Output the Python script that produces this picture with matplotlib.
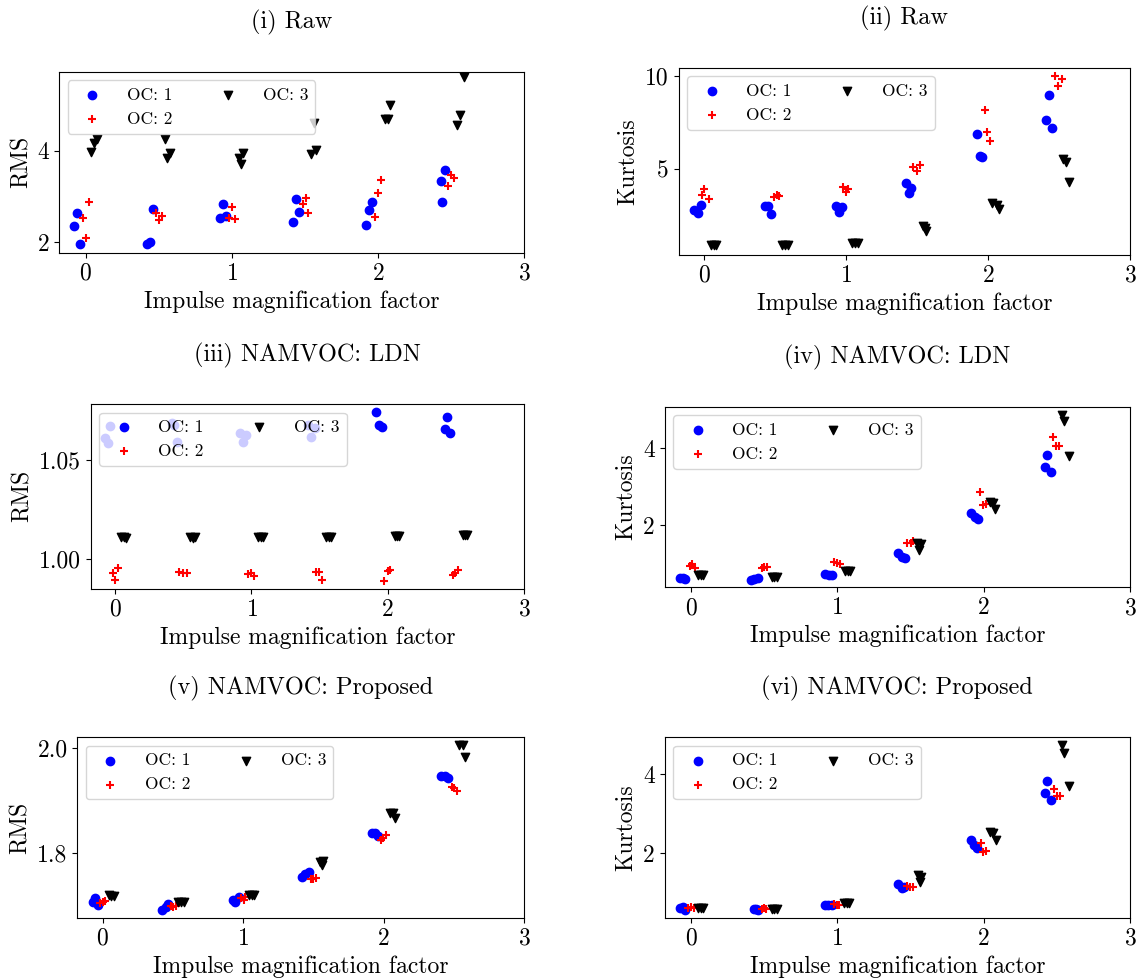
import numpy as np
import matplotlib
matplotlib.use('Agg')
import matplotlib.pyplot as plt
from matplotlib.ticker import FormatStrFormatter

plt.rcParams['font.family'] = 'serif'
plt.rcParams['font.serif'] = ['cmr10']
plt.rcParams['mathtext.fontset'] = 'cm'
plt.rcParams['axes.formatter.use_mathtext'] = True

# impulse magnification factor for each group of 3 repeats (jittered x read per point)
# rows: OC 1, OC 2, OC 3

# (i) raw RMS
raw_rms_x = [
    [-0.06, -0.08, -0.04, 0.46, 0.42, 0.44, 0.94, 0.92, 0.96, 1.44, 1.46, 1.42, 1.96, 1.94, 1.92, 2.46, 2.43, 2.44],
    [0.02, -0.02, 0.00, 0.48, 0.52, 0.50, 1.00, 0.98, 1.02, 1.51, 1.49, 1.52, 2.02, 2.00, 1.98, 2.50, 2.52, 2.48],
    [0.08, 0.06, 0.04, 0.54, 0.58, 0.56, 1.08, 1.05, 1.06, 1.56, 1.58, 1.54, 2.08, 2.05, 2.07, 2.59, 2.56, 2.54],
]
raw_rms_y = [
    [2.65, 2.36, 1.96, 2.72, 1.96, 2.01, 2.84, 2.52, 2.58, 2.95, 2.67, 2.44, 2.87, 2.71, 2.38, 3.57, 3.34, 2.89],
    [2.89, 2.52, 2.10, 2.65, 2.58, 2.49, 2.76, 2.52, 2.51, 2.97, 2.83, 2.65, 3.35, 3.08, 2.55, 3.47, 3.40, 3.22],
    [4.25, 4.16, 3.98, 4.25, 3.96, 3.83, 3.94, 3.83, 3.70, 4.61, 4.01, 3.92, 5.00, 4.70, 4.69, 5.60, 4.77, 4.57],
]

# (ii) raw kurtosis
raw_kurt_x = [
    [-0.075, -0.047, -0.026, 0.43, 0.45, 0.47, 0.93, 0.95, 0.97, 1.42, 1.46, 1.44, 1.92, 1.94, 1.96, 2.43, 2.41, 2.45],
    [0.00, -0.016, 0.033, 0.49, 0.51, 0.53, 0.98, 1.01, 1.00, 1.47, 1.52, 1.50, 1.98, 1.99, 2.01, 2.47, 2.52, 2.49],
    [0.045, 0.07, 0.085, 0.55, 0.57, 0.59, 1.04, 1.06, 1.08, 1.54, 1.555, 1.565, 2.03, 2.06, 2.08, 2.53, 2.55, 2.57],
]
raw_kurt_y = [
    [2.78, 2.65, 3.06, 3.03, 3.03, 2.60, 3.03, 2.71, 2.97, 4.23, 4.00, 3.69, 6.88, 5.72, 5.63, 8.98, 7.63, 7.19],
    [3.93, 3.60, 3.37, 3.48, 3.60, 3.57, 4.05, 3.93, 3.75, 5.13, 5.20, 4.89, 8.17, 7.00, 6.52, 10.00, 9.82, 9.48],
    [0.92, 0.91, 0.92, 0.91, 0.92, 0.91, 1.04, 1.04, 1.03, 1.92, 1.85, 1.65, 3.15, 3.06, 2.83, 5.54, 5.36, 4.28],
]

# (iii) NAMVOC LDN RMS
ldn_rms_x = [
    [-0.078, -0.056, -0.037, 0.42, 0.43, 0.456, 0.915, 0.963, 0.939, 1.415, 1.439, 1.463, 1.915, 1.934, 1.959, 2.434, 2.42, 2.459],
    [-0.02, 0.024, 0.00, 0.471, 0.50, 0.524, 0.976, 1.00, 1.02, 1.471, 1.495, 1.52, 1.976, 2.00, 2.02, 2.476, 2.495, 2.517],
    [0.045, 0.065, 0.08, 0.55, 0.57, 0.585, 1.05, 1.07, 1.085, 1.55, 1.57, 1.585, 2.05, 2.07, 2.085, 2.55, 2.57, 2.585],
]
ldn_rms_y = [
    [1.0609, 1.0584, 1.0673, 1.0685, 1.0675, 1.0592, 1.0638, 1.0626, 1.0592, 1.0676, 1.0614, 1.0660, 1.0740, 1.0676, 1.0664, 1.0715, 1.0656, 1.0634],
    [0.9933, 0.9955, 0.9896, 0.9938, 0.9930, 0.9930, 0.9925, 0.9930, 0.9916, 0.9935, 0.9935, 0.9896, 0.9893, 0.9943, 0.9946, 0.9921, 0.9933, 0.9946],
    [1.0112, 1.0110, 1.0108, 1.0110, 1.0108, 1.0110, 1.0114, 1.0112, 1.0113, 1.0114, 1.0112, 1.0110, 1.0117, 1.0115, 1.0116, 1.0122, 1.0120, 1.0121],
]

# (iv) NAMVOC LDN kurtosis
ldn_kurt_x = [
    [-0.077, -0.055, -0.039, 0.409, 0.432, 0.461, 0.916, 0.943, 0.96, 1.416, 1.439, 1.461, 1.911, 1.939, 1.961, 2.434, 2.416, 2.457],
    [-0.009, 0.007, 0.025, 0.484, 0.50, 0.518, 0.977, 0.995, 1.018, 1.477, 1.50, 1.518, 1.977, 1.995, 2.018, 2.477, 2.495, 2.518],
    [0.05, 0.07, 0.085, 0.55, 0.57, 0.585, 1.05, 1.07, 1.085, 1.541, 1.575, 1.559, 2.041, 2.064, 2.08, 2.536, 2.552, 2.582],
]
ldn_kurt_y = [
    [0.61, 0.61, 0.58, 0.57, 0.58, 0.61, 0.72, 0.70, 0.70, 1.26, 1.16, 1.13, 2.30, 2.22, 2.15, 3.83, 3.52, 3.37],
    [0.93, 0.98, 0.89, 0.87, 0.91, 0.90, 1.04, 1.00, 0.98, 1.54, 1.52, 1.59, 2.85, 2.52, 2.55, 4.29, 4.06, 4.06],
    [0.70, 0.69, 0.69, 0.65, 0.64, 0.65, 0.81, 0.80, 0.81, 1.52, 1.50, 1.35, 2.61, 2.57, 2.43, 4.87, 4.70, 3.80],
]

# (v) NAMVOC proposed RMS
prop_rms_x = [
    [-0.071, -0.052, -0.035, 0.425, 0.449, 0.466, 0.929, 0.946, 0.969, 1.418, 1.442, 1.466, 1.915, 1.939, 1.962, 2.412, 2.435, 2.459],
    [-0.017, 0.00, 0.019, 0.485, 0.501, 0.52, 0.988, 1.005, 1.017, 1.482, 1.501, 1.52, 1.981, 1.998, 2.021, 2.49, 2.50, 2.524],
    [0.045, 0.06, 0.08, 0.54, 0.56, 0.58, 1.045, 1.065, 1.08, 1.548, 1.572, 1.565, 2.045, 2.064, 2.08, 2.539, 2.563, 2.582],
]
prop_rms_y = [
    [1.7067, 1.7130, 1.7003, 1.6908, 1.6971, 1.7016, 1.7098, 1.7067, 1.7162, 1.7543, 1.7594, 1.7638, 1.8381, 1.8368, 1.8317, 1.9460, 1.9460, 1.9430],
    [1.7048, 1.7067, 1.7086, 1.6984, 1.6971, 1.6984, 1.7130, 1.7098, 1.7149, 1.7492, 1.7492, 1.7511, 1.8241, 1.8273, 1.8337, 1.9257, 1.9225, 1.9180],
    [1.7190, 1.7180, 1.7180, 1.7067, 1.7060, 1.7067, 1.7194, 1.7190, 1.7194, 1.7829, 1.7848, 1.7765, 1.8749, 1.8749, 1.8654, 2.0050, 2.0050, 1.9830],
]

# (vi) NAMVOC proposed kurtosis
prop_kurt_x = [
    [-0.077, -0.057, -0.039, 0.427, 0.445, 0.461, 0.916, 0.939, 0.961, 1.416, 1.439, 1.455, 1.916, 1.934, 1.957, 2.434, 2.416, 2.461],
    [-0.02, 0.00, 0.018, 0.484, 0.50, 0.514, 0.977, 0.995, 1.014, 1.477, 1.495, 1.518, 1.98, 1.995, 2.018, 2.48, 2.50, 2.523],
    [0.05, 0.07, 0.085, 0.55, 0.57, 0.585, 1.045, 1.065, 1.08, 1.552, 1.575, 1.564, 2.041, 2.064, 2.082, 2.536, 2.552, 2.582],
]
prop_kurt_y = [
    [0.61, 0.65, 0.57, 0.59, 0.58, 0.57, 0.69, 0.68, 0.68, 1.22, 1.11, 1.16, 2.34, 2.21, 2.13, 3.83, 3.54, 3.35],
    [0.61, 0.63, 0.61, 0.59, 0.61, 0.59, 0.72, 0.69, 0.69, 1.17, 1.16, 1.16, 2.25, 2.04, 2.06, 3.63, 3.46, 3.46],
    [0.62, 0.62, 0.62, 0.60, 0.60, 0.60, 0.73, 0.73, 0.73, 1.45, 1.41, 1.28, 2.55, 2.51, 2.34, 4.74, 4.55, 3.70],
]

titles = ['(i) Raw', '(ii) Raw', '(iii) NAMVOC: LDN', '(iv) NAMVOC: LDN',
          '(v) NAMVOC: Proposed', '(vi) NAMVOC: Proposed']
ylabels = ['RMS', 'Kurtosis', 'RMS', 'Kurtosis', 'RMS', 'Kurtosis']
series = [(raw_rms_x, raw_rms_y), (raw_kurt_x, raw_kurt_y),
          (ldn_rms_x, ldn_rms_y), (ldn_kurt_x, ldn_kurt_y),
          (prop_rms_x, prop_rms_y), (prop_kurt_x, prop_kurt_y)]
yticks = [[2, 4], [5, 10], [1.00, 1.05], [2, 4], [1.8, 2.0], [2, 4]]
yfmt = ['%d', '%d', '%.2f', '%d', '%.1f', '%d']
ylims = [(1.773, 5.725), (0.376, 10.45), (0.9852, 1.0782), (0.375, 5.085),
         (1.676, 2.0198), (0.37, 4.94)]

oc_labels = ['OC: 1', 'OC: 2', 'OC: 3']
oc_colors = ['blue', 'red', 'black']
oc_markers = ['o', '+', 'v']

W, H = 1140, 980
# axes boxes in pixels: left, right, top, bottom
boxes = [(59.3, 524, 71.7, 252.7), (678.7, 1130, 67.7, 255),
         (90.7, 524, 404, 588.7), (664.7, 1130, 406.7, 587.3),
         (77.3, 524, 737.3, 917.7), (664.7, 1130, 737.3, 917.7)]

fig = plt.figure(figsize=(W / 100, H / 100), dpi=100)

for i in range(6):
    l, r, t, b = boxes[i]
    ax = fig.add_axes([l / W, 1 - b / H, (r - l) / W, (b - t) / H])
    xs, ys = series[i]
    for k in range(3):
        ax.scatter(xs[k], ys[k], c=oc_colors[k], marker=oc_markers[k], label=oc_labels[k])
    ax.set_xlim(-0.18, 3)
    ax.set_ylim(*ylims[i])
    ax.set_xticks([0, 1, 2, 3])
    ax.set_yticks(yticks[i])
    ax.yaxis.set_major_formatter(FormatStrFormatter(yfmt[i]))
    ax.tick_params(labelsize=17)
    ax.set_xlabel('Impulse magnification factor', fontsize=17)
    ax.set_ylabel(ylabels[i], fontsize=17)
    ax.set_title(titles[i], fontsize=17.5, pad=31)
    ax.legend(loc='upper left', ncol=2, fontsize=12.5,
              handletextpad=1.0, columnspacing=2.2)

plt.savefig('out.png', dpi=100)
